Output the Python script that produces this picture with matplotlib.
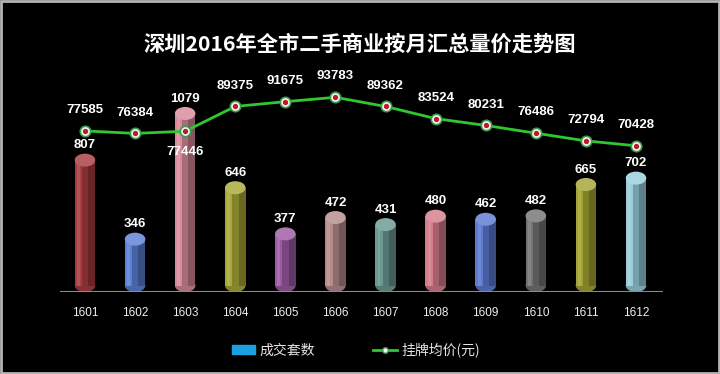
import matplotlib
matplotlib.use("Agg")
import matplotlib.pyplot as plt
from matplotlib.patches import Ellipse, Rectangle, Patch
from matplotlib.lines import Line2D
import numpy as np

plt.rcParams['font.family'] = ['Liberation Sans', 'Noto Sans CJK SC', 'DejaVu Sans']

months = ['1601', '1602', '1603', '1604', '1605', '1606', '1607', '1608', '1609', '1610', '1611', '1612']
deals = [807, 346, 1079, 646, 377, 472, 431, 480, 462, 482, 665, 702]
prices = [77585, 76384, 77446, 89375, 91675, 93783, 89362, 83524, 80231, 76486, 72794, 70428]
bar_colors = ['#a83c40', '#5b80d4', '#d88a9a', '#a8a838', '#9c5aa4', '#b48c8c',
              '#6c9892', '#d47c8c', '#5c7ad0', '#747474', '#a4a434', '#98cedc']
title = '深圳2016年全市二手商业按月汇总量价走势图'
legend_labels = ['成交套数', '挂牌均价(元)']

W, H = 720, 374
fig = plt.figure(figsize=(W / 100, H / 100), dpi=100, facecolor='black')

ax_l, ax_r, ax_b, ax_t = 60, 663, 292, 60
ax = fig.add_axes([ax_l / W, 1 - ax_b / H, (ax_r - ax_l) / W, (ax_b - ax_t) / H])
ax.set_facecolor('black')
x = np.arange(len(months))
spacing = 50.09
ax.set_xlim(-(85 - ax_l) / spacing, len(months) - 1 + (ax_r - 636) / spacing)
ymax_bar = 1353
ax.set_ylim(0, ymax_bar)

px_per_unit = (ax_b - ax_t) / ymax_bar
cap_h = 13 / px_per_unit  # ellipse height in data units
bw = 0.41


def shade(c, f):
    c = np.array(matplotlib.colors.to_rgb(c))
    if f < 0:
        return tuple(c * (1 + f))
    return tuple(c + (1 - c) * f)


for xi, v, c in zip(x, deals, bar_colors):
    # body
    ax.bar(xi, v - cap_h, bottom=cap_h / 2, width=bw, color=c, zorder=2, linewidth=0)
    ax.bar(xi + bw * 0.18, v - cap_h, bottom=cap_h / 2, width=bw * 0.64,
           color='black', alpha=0.22, zorder=2.1, linewidth=0)
    ax.bar(xi + bw * 0.33, v - cap_h, bottom=cap_h / 2, width=bw * 0.34,
           color='black', alpha=0.2, zorder=2.2, linewidth=0)
    ax.bar(xi - bw * 0.32, v - cap_h, bottom=cap_h / 2, width=bw * 0.14,
           color='white', alpha=0.12, zorder=2.2, linewidth=0)
    # bottom round
    ax.add_patch(Ellipse((xi, cap_h / 2), bw, cap_h, color=shade(c, -0.2), zorder=1.9, linewidth=0))
    # top cap
    ax.add_patch(Ellipse((xi, v - cap_h / 2), bw, cap_h, color=shade(c, 0.18), zorder=3, linewidth=0))
    ax.annotate(str(v), (xi, v), xytext=(0, 6), textcoords='offset points',
                ha='center', va='center', color='white', fontsize=9.5, fontweight='bold', zorder=5)

for s in ax.spines.values():
    s.set_visible(False)
ax.axhline(0, color='#8a8a8a', lw=1.5, zorder=4)
ax.set_yticks([])
ax.set_xticks(x)
ax.set_xticklabels(months, color='#f0f0f0', fontsize=8.5)
ax.tick_params(axis='x', length=0, pad=11)

ax2 = ax.twinx()
ax2.set_ylim(0, 111750)
for s in ax2.spines.values():
    s.set_visible(False)
ax2.set_yticks([])
ax2.plot(x, prices, color='#2fc82f', lw=2, marker='o', ms=7.5, mfc='#eef6ee',
         mec='#3a9a50', mew=1.2, zorder=6)
ax2.plot(x, prices, ls='none', marker='o', ms=2.8, color='#c0182a', zorder=7)
for i, (xi, p) in enumerate(zip(x, prices)):
    dy = -15 if i == 2 else 15
    ax2.annotate(str(p), (xi, p), xytext=(0, dy), textcoords='offset points',
                 ha='center', va='center', color='white', fontsize=9.5, fontweight='bold', zorder=8)

fig.text(0.5, 1 - 44 / H, title, ha='center', va='center', color='white',
         fontsize=15.3, fontweight='bold', family=['Noto Sans CJK SC', 'DejaVu Sans'])

handles = [Patch(color='#1ba0e2'),
           Line2D([0], [0], color='#2fc82f', lw=2, marker='o', ms=4, mfc='white', mec='#3a9a50')]
leg = fig.legend(handles, legend_labels, loc='center', bbox_to_anchor=(0.494, 1 - 350 / H),
                 ncol=2, frameon=False, columnspacing=4.2, handlelength=1.7,
                 handletextpad=0.3, prop={'family': ['Noto Sans CJK SC', 'DejaVu Sans'], 'size': 10})
for t in leg.get_texts():
    t.set_color('#e6e6e6')

fig.patches.append(Rectangle((0.0015, 0.003), 0.997, 0.994, transform=fig.transFigure,
                             fill=False, edgecolor='#b4b4b4', lw=2))

fig.savefig('out.png', dpi=100, facecolor='black')
